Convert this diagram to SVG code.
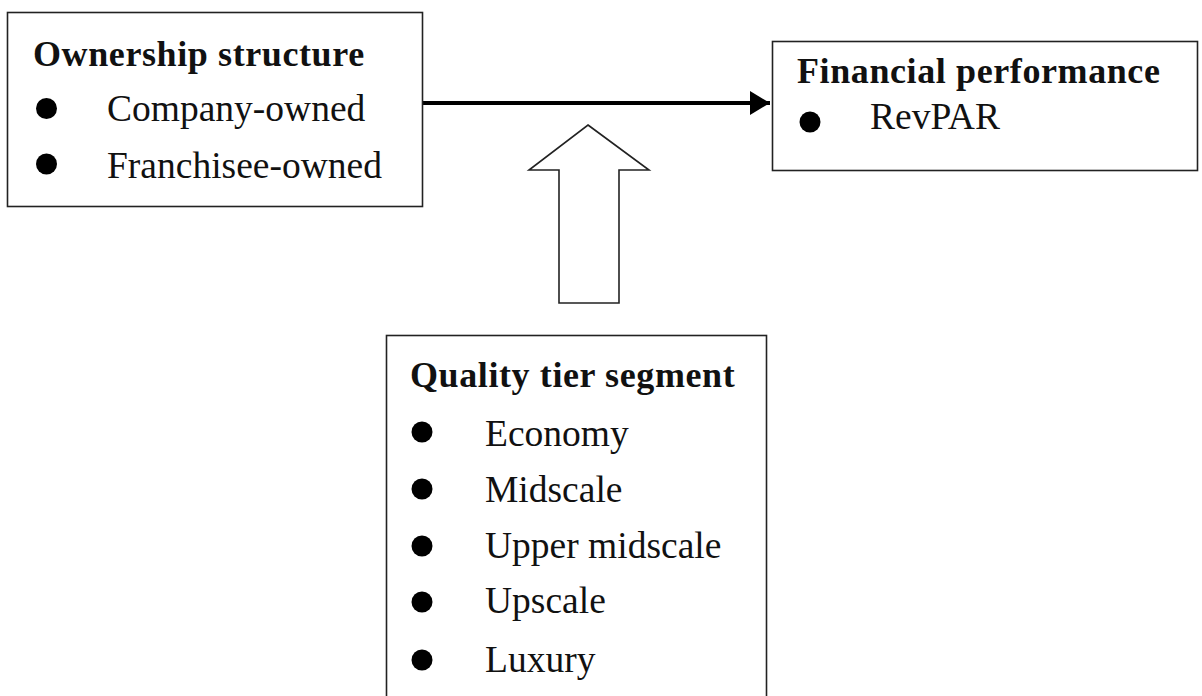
<svg xmlns="http://www.w3.org/2000/svg" width="1202" height="696" viewBox="0 0 1202 696">
<style>
.box{fill:#fff;stroke:#222;stroke-width:1.6}
.t{font-family:"Liberation Serif","Times New Roman",serif;font-size:37.5px;fill:#111}
.h{font-size:36px;font-weight:bold;letter-spacing:0.6px}
.b{fill:#000}
</style>
<defs>
<marker id="ah" markerWidth="6" markerHeight="6" refX="5" refY="3" orient="auto" markerUnits="strokeWidth">
<path d="M0,0 L5,3 L0,6 Z" fill="#000"/>
</marker>
</defs>
<rect width="1202" height="696" fill="#fff"/>
<g id="connectors">
<line x1="423" y1="103" x2="770" y2="103" stroke="#000" stroke-width="4" marker-end="url(#ah)"/>
<path d="M588,125 L649,170 L619,170 L619,303 L559,303 L559,170 L529,170 Z" fill="#fff" stroke="#222" stroke-width="1.6"/>
</g>
<g id="ownership">
<rect class="box" x="7.5" y="12.5" width="415" height="194"/>
<text class="t h" x="33" y="66">Ownership structure</text>
<circle class="b" cx="46.5" cy="108.5" r="10.5"/>
<text class="t" x="107" y="121">Company-owned</text>
<circle class="b" cx="46.5" cy="164" r="10.5"/>
<text class="t" x="107" y="178">Franchisee-owned</text>
</g>
<g id="financial">
<rect class="box" x="772.5" y="41.5" width="425" height="129"/>
<text class="t h" x="797" y="83">Financial performance</text>
<circle class="b" cx="810" cy="122" r="10.5"/>
<text class="t" x="870" y="129">RevPAR</text>
</g>
<g id="quality">
<rect class="box" x="386.5" y="335.5" width="380" height="380"/>
<text class="t h" x="410" y="387">Quality tier segment</text>
<circle class="b" cx="422" cy="432" r="10.5"/>
<text class="t" x="485" y="446">Economy</text>
<circle class="b" cx="422" cy="489" r="10.5"/>
<text class="t" x="485" y="502">Midscale</text>
<circle class="b" cx="422" cy="546" r="10.5"/>
<text class="t" x="485" y="558">Upper midscale</text>
<circle class="b" cx="422" cy="602" r="10.5"/>
<text class="t" x="485" y="613">Upscale</text>
<circle class="b" cx="422" cy="660" r="10.5"/>
<text class="t" x="485" y="672">Luxury</text>
</g>
</svg>
